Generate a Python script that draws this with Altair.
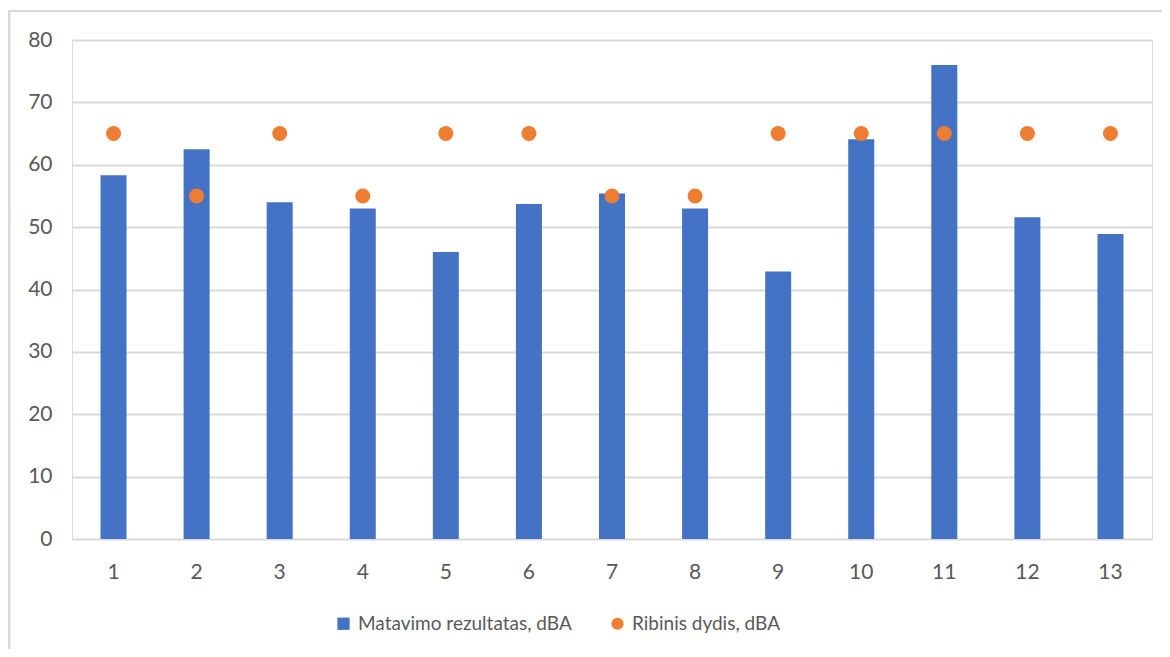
import altair as alt
import pandas as pd

categories = [str(i) for i in range(1, 14)]
measured = [58.3, 62.5, 54.0, 53.0, 46.0, 53.7, 55.4, 53.0, 42.9, 64.1, 76.0, 51.6, 48.9]
limit = [65, 55, 65, 55, 65, 65, 55, 55, 65, 65, 65, 65, 65]
series_names = ["Matavimo rezultatas, dBA", "Ribinis dydis, dBA"]

df = pd.DataFrame({
    "cat": categories * 2,
    "value": measured + limit,
    "series": [series_names[0]] * 13 + [series_names[1]] * 13,
})

FONT = "Lato"
GRAY = "#595959"

legend_opts = dict(
    title=None, orient="none", legendX=262, legendY=574, direction="horizontal",
    symbolSize=150, labelFontSize=19, labelColor=GRAY, labelFont=FONT,
    columnPadding=36, labelOffset=5, padding=0, symbolStrokeWidth=0, labelLimit=0,
)

color = alt.Color(
    "series:N",
    scale=alt.Scale(domain=series_names, range=["#4472C4", "#ED7D31"]),
    legend=alt.Legend(**legend_opts),
)
shape = alt.Shape(
    "series:N",
    scale=alt.Scale(domain=series_names, range=["square", "circle"]),
    legend=alt.Legend(**legend_opts),
)

x = alt.X(
    "cat:N", sort=categories, title=None,
    scale=alt.Scale(paddingInner=0.69, paddingOuter=0.345),
    axis=alt.Axis(labelAngle=0, domain=False, ticks=False, labelPadding=22,
                  labelFontSize=21, labelColor=GRAY, labelFont=FONT, grid=False),
)
y = alt.Y(
    "value:Q", title=None,
    scale=alt.Scale(domain=[0, 80], nice=False),
    axis=alt.Axis(values=list(range(0, 90, 10)), domain=False, ticks=False,
                  labelPadding=20, labelFontSize=21, labelColor=GRAY, labelFont=FONT,
                  grid=True, gridColor="#D9D9D9", gridWidth=2),
)

bars = alt.Chart(df).transform_filter(
    alt.datum.series == series_names[0]
).mark_bar(size=26).encode(x=x, y=y, color=color, shape=shape)

points = alt.Chart(df).transform_filter(
    alt.datum.series == series_names[1]
).mark_point(filled=True, size=225, opacity=1).encode(x=x, y=y, color=color, shape=shape)

frame_top = alt.Chart(pd.DataFrame({"a": [0]})).mark_rule(
    color="#D9D9D9", strokeWidth=2, clip=False
).encode(x=alt.value(-64), x2=alt.value(1200), y=alt.value(-29))
frame_left = alt.Chart(pd.DataFrame({"a": [0]})).mark_rule(
    color="#D9D9D9", strokeWidth=3, clip=False
).encode(x=alt.value(-63), y=alt.value(-30), y2=alt.value(700))

chart = alt.layer(bars, points, frame_top, frame_left).properties(
    width=1080, height=499,
    autosize=alt.AutoSizeParams(type="none"),
    padding={"left": 64, "top": 32, "right": 10, "bottom": 110},
).configure_view(stroke=None).configure(background="white")

chart.save("out.html", embed_options={"renderer": "svg", "actions": False})
